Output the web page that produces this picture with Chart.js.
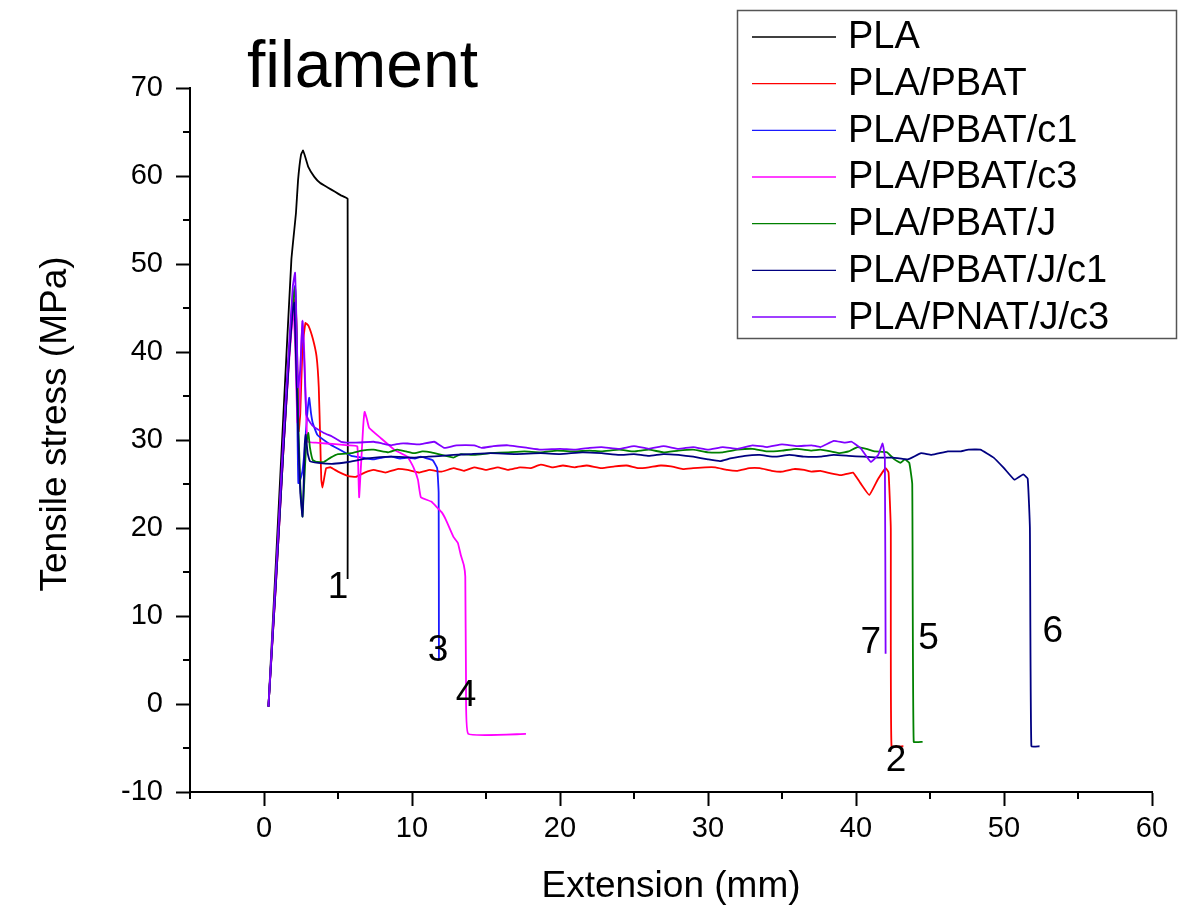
<!DOCTYPE html>
<html>
<head>
<meta charset="utf-8">
<script src="https://cdn.jsdelivr.net/npm/chart.js@4.4.1/dist/chart.umd.min.js"></script>
<style>
  html, body { margin: 0; padding: 0; background: #fff; }
  #wrap { width: 1190px; height: 912px; }
</style>
</head>
<body>
<div id="wrap"><canvas id="chart" width="1190" height="912"></canvas></div>
<script>
// series names (legend order)
var seriesNames = ['PLA', 'PLA/PBAT', 'PLA/PBAT/c1', 'PLA/PBAT/c3', 'PLA/PBAT/J', 'PLA/PBAT/J/c1', 'PLA/PNAT/J/c3'];

// [extension (mm), tensile stress (MPa)]
var pla = [[0.3,-0.3],[0.8,16],[1.3,32.5],[1.85,50.5],[2.16,55.8],[2.3,59.5],[2.5,62.4],[2.64,62.9],[2.8,62.1],[3.0,61],[3.4,59.9],[3.8,59.2],[4.3,58.7],[4.8,58.2],[5.2,57.8],[5.65,57.4],[5.65,14.2]];

var plaPbat = [[0.3,-0.3],[0.8,13.5],[1.3,28.5],[1.7,39.5],[1.95,44.8],[2.1,46],[2.2,43],[2.28,36],[2.35,31],[2.45,33],[2.6,40.5],[2.8,43.3],[3.0,43],[3.3,41.5],[3.55,39.5],[3.7,36],[3.8,30],[3.87,25.5],[3.95,24.6],[4.05,25.5],[4.2,26.8],[4.5,26.9],[5.0,26.4],[5.7,25.9],[6.2,25.8],[6.8,26.3],[7.4,26.6],[8.2,26.3],[9.0,26.7],[9.7,26.6],[10.5,26.3],[11.2,26.6],[12.0,26.4],[12.8,26.8],[13.5,26.5],[14.2,26.9],[15.0,26.6],[15.8,26.9],[16.5,26.6],[17.3,26.9],[18.0,26.8],[18.7,27.2],[19.5,26.9],[20.2,27.1],[21.0,26.9],[21.8,27.1],[22.8,26.8],[23.7,27.0],[24.5,27.1],[25.3,26.8],[26.0,26.9],[26.8,27.1],[27.5,27.0],[28.3,26.7],[29.0,26.8],[29.8,26.9],[30.5,26.9],[31.3,26.6],[32.0,26.5],[32.8,26.8],[33.5,26.8],[34.3,26.5],[35.0,26.4],[35.8,26.7],[36.5,26.6],[37.0,26.4],[37.6,26.5],[38.3,26.2],[39.0,26.0],[39.8,26.3],[40.3,25.1],[40.9,23.75],[41.5,25.6],[42.0,26.8],[42.2,26.3],[42.35,20],[42.4,-4.8],[43.2,-4.8]];

var plaPbatC1 = [[0.3,-0.3],[0.8,14],[1.3,29],[1.7,40],[1.95,46],[2.1,47.5],[2.2,40],[2.27,30],[2.32,25.1],[2.45,25.5],[2.6,26.5],[2.75,29],[2.9,32.5],[3.05,34.8],[3.18,33],[3.3,31.9],[3.6,30.6],[4.3,29.7],[5.0,29.0],[5.9,28.2],[6.6,28.0],[7.4,27.8],[8.0,28.0],[8.6,28.1],[9.2,27.9],[9.7,28.0],[10.2,27.9],[10.6,28.1],[11.0,27.9],[11.4,27.7],[11.7,26.8],[11.8,24],[11.82,5.0]];

var plaPbatC3 = [[0.3,-0.3],[0.8,13.5],[1.3,28.5],[1.7,39],[1.95,44.5],[2.0,44.9],[2.12,40],[2.25,32],[2.38,33],[2.5,40],[2.6,43.6],[2.72,40],[2.85,33],[2.95,29.8],[3.5,29.7],[4.2,29.6],[5.0,29.5],[5.7,29.4],[6.3,29.3],[6.38,26],[6.43,23.5],[6.55,27],[6.7,31.5],[6.8,33.2],[6.95,32.4],[7.1,31.4],[7.9,30.2],[8.8,28.9],[9.7,28.1],[10.1,26.9],[10.4,25.5],[10.6,23.5],[11.3,23.0],[12.0,21.8],[12.3,20.9],[12.8,19.0],[13.1,18.3],[13.3,16.9],[13.5,15.8],[13.6,14.5],[13.65,2.7],[13.8,-3.4],[17.7,-3.4]];

var plaPbatJ = [[0.3,-0.3],[0.8,14],[1.3,29],[1.7,40],[1.95,45.5],[2.1,47.3],[2.2,42],[2.3,33],[2.45,25],[2.6,21.3],[2.7,24.5],[2.85,29.5],[3.0,30.8],[3.1,29.2],[3.3,27.7],[3.6,27.5],[4.05,27.5],[4.5,28.0],[5.0,28.4],[5.9,28.5],[6.6,28.8],[7.4,28.9],[8.4,28.6],[9.0,28.9],[9.6,28.7],[10.1,28.5],[10.7,28.7],[11.3,28.6],[12.0,28.3],[12.8,28.0],[13.3,28.4],[14.2,28.3],[15.3,28.5],[16.5,28.6],[17.6,28.7],[18.7,28.6],[19.8,28.8],[21.0,28.7],[22.0,28.8],[22.8,28.7],[24.0,28.9],[25.0,28.7],[26.0,28.9],[27.0,28.6],[28.0,28.8],[29.0,28.9],[30.0,28.6],[31.0,28.6],[32.0,28.9],[33.0,29.0],[34.0,28.7],[35.0,28.8],[36.0,29.0],[37.0,28.8],[37.6,28.9],[38.3,28.7],[38.9,28.5],[39.5,28.7],[40.1,29.2],[40.7,29.0],[41.3,28.7],[42.1,28.6],[42.6,27.8],[43.0,27.4],[43.3,27.8],[43.6,27.4],[43.8,25],[43.9,-4.3],[44.5,-4.3]];

var plaPbatJC1 = [[0.3,-0.3],[0.8,13.5],[1.3,28.5],[1.7,39.5],[1.95,45],[2.05,45.6],[2.15,40],[2.3,31],[2.45,24],[2.6,21.3],[2.68,25],[2.75,29.5],[2.82,30.6],[2.95,28.5],[3.1,27.6],[3.65,27.4],[4.7,27.3],[5.7,27.5],[7.0,27.9],[8.6,28.1],[10.1,28.0],[11.1,28.1],[12.0,28.2],[12.8,28.3],[14.0,28.4],[15.3,28.5],[17.0,28.4],[18.7,28.5],[20.0,28.4],[21.5,28.6],[22.8,28.5],[24.0,28.3],[25.0,28.4],[26.0,28.2],[27.0,28.4],[28.0,28.3],[29.0,28.1],[30.0,27.8],[30.8,27.6],[31.5,27.9],[32.5,28.2],[33.5,28.3],[34.5,28.1],[35.5,28.3],[36.5,28.1],[37.6,28.1],[38.5,28.3],[39.5,28.2],[40.5,28.1],[41.5,28.0],[42.5,28.0],[43.5,27.8],[44.4,28.5],[45.1,28.3],[46.2,28.7],[47.0,28.7],[47.6,28.9],[48.4,28.9],[49.3,28.0],[50.0,26.8],[50.7,25.5],[51.3,26.1],[51.6,25.6],[51.75,20],[51.85,-4.8],[52.4,-4.8]];

var plaPnatJC3 = [[0.3,-0.3],[0.8,14.5],[1.3,30],[1.7,41],[1.95,47.5],[2.1,49],[2.2,43],[2.3,36],[2.45,38],[2.6,43.5],[2.72,39],[2.85,33],[3.0,32.3],[3.3,31.6],[4.05,30.8],[4.6,30.4],[5.2,29.8],[6.2,29.7],[7.4,29.8],[8.0,29.6],[8.6,29.4],[9.2,29.6],[9.7,29.6],[10.5,29.5],[11.5,29.8],[12.2,29.1],[13.0,29.4],[14.2,29.4],[14.7,29.1],[15.5,29.3],[16.5,29.4],[17.8,29.1],[18.7,28.9],[20.0,29.0],[21.0,28.9],[22.0,29.1],[22.8,29.2],[24.0,29.0],[25.0,29.3],[26.0,29.0],[27.0,29.3],[28.0,29.0],[29.0,29.2],[30.0,28.9],[31.0,29.2],[32.0,29.0],[33.0,29.4],[34.0,29.2],[35.0,29.5],[36.0,29.3],[37.0,29.4],[37.6,29.2],[38.5,29.9],[39.2,29.7],[39.7,29.8],[40.3,29.1],[41.0,27.5],[41.5,28.3],[41.8,29.6],[41.95,28],[42.0,5.7]];

// numbers written next to the break points
var breakLabels = ['1', '2', '3', '4', '5', '6', '7'];
var breakX = [5.0, 42.7, 11.76, 13.65, 44.9, 53.3, 41.0];
var breakY = [13.2, -6.4, 6.0, 0.9, 7.4, 8.2, 6.9];

var allSeries = [pla, plaPbat, plaPbatC1, plaPbatC3, plaPbatJ, plaPbatJC1, plaPnatJC3];
var colors = ['#000000', '#ff0000', '#1a1aff', '#ff00ff', '#008000', '#000080', '#8000ff'];
var FONT = '"Liberation Sans", Arial, sans-serif';

var datasets = allSeries.map(function(s, i){
  return {
    label: seriesNames[i],
    data: s.map(function(p){ return {x: p[0], y: p[1]}; }),
    borderColor: colors[i],
    backgroundColor: colors[i],
    borderWidth: 1.8,
    pointRadius: 0,
    tension: 0.1,
    fill: false,
    order: 7 - i
  };
});

var extras = {
  id: 'extras',
  afterDraw: function(chart){
    var ctx = chart.ctx, xs = chart.scales.x, ys = chart.scales.y, a = chart.chartArea;
    ctx.save();
    // minor ticks
    ctx.strokeStyle = '#000';
    ctx.lineWidth = 2;
    ctx.beginPath();
    for (var v = -5; v <= 60; v += 10) {
      var px = xs.getPixelForValue(v);
      ctx.moveTo(px, a.bottom); ctx.lineTo(px, a.bottom + 7);
    }
    for (var w = -5; w <= 65; w += 10) {
      var py = ys.getPixelForValue(w);
      ctx.moveTo(a.left, py); ctx.lineTo(a.left - 7, py);
    }
    ctx.stroke();

    // y axis title
    ctx.fillStyle = '#000';
    ctx.save();
    ctx.translate(56, 424);
    ctx.rotate(-Math.PI / 2);
    ctx.font = '37px ' + FONT;
    ctx.textAlign = 'center';
    ctx.textBaseline = 'middle';
    ctx.fillText('Tensile stress (MPa)', 0, 0);
    ctx.restore();

    // break numbers
    ctx.font = '37px ' + FONT;
    ctx.textAlign = 'center';
    ctx.textBaseline = 'middle';
    for (var i = 0; i < breakLabels.length; i++) {
      ctx.fillText(breakLabels[i], xs.getPixelForValue(breakX[i]), ys.getPixelForValue(breakY[i]));
    }

    // title inside the plot
    ctx.font = '66px ' + FONT;
    ctx.textAlign = 'left';
    ctx.textBaseline = 'alphabetic';
    ctx.fillText('filament', 247, 87);

    // legend box
    ctx.fillStyle = '#fff';
    ctx.fillRect(737, 10, 439, 328);
    ctx.strokeStyle = '#555';
    ctx.lineWidth = 1.5;
    ctx.strokeRect(737.5, 10.5, 439, 328);
    ctx.font = '38px ' + FONT;
    ctx.textBaseline = 'middle';
    for (var k = 0; k < seriesNames.length; k++) {
      var ry = 37 + k * 46.67;
      ctx.strokeStyle = colors[k];
      ctx.lineWidth = 1.3;
      ctx.beginPath();
      ctx.moveTo(752, ry); ctx.lineTo(836, ry);
      ctx.stroke();
      ctx.fillStyle = '#000';
      ctx.fillText(seriesNames[k], 848, ry + 1);
    }
    ctx.restore();
  }
};

function tickCol(c){
  return (c.tick && c.tick.value % 10 === 0) ? '#000' : 'rgba(0,0,0,0)';
}

new Chart(document.getElementById('chart'), {
  type: 'scatter',
  data: { datasets: datasets },
  options: {
    responsive: false,
    animation: false,
    devicePixelRatio: 1,
    showLine: true,
    layout: { padding: { top: 88, right: 38, left: 0, bottom: 0 } },
    plugins: { legend: { display: false }, tooltip: { enabled: false } },
    scales: {
      x: {
        type: 'linear', min: -5, max: 60,
        afterFit: function(s){ s.height = 120; },
        border: { display: true, color: '#000', width: 2 },
        grid: { drawOnChartArea: false, drawTicks: true, tickLength: 14, tickWidth: 2, tickColor: tickCol },
        ticks: {
          stepSize: 5, autoSkip: false, maxRotation: 0, padding: 6, color: '#000',
          font: { size: 29, family: FONT },
          callback: function(v){ return v % 10 === 0 ? v : ''; }
        },
        title: { display: true, text: 'Extension (mm)', color: '#000', font: { size: 37, family: FONT, lineHeight: 1.2 }, padding: { top: 0, bottom: 3 } }
      },
      y: {
        type: 'linear', min: -10, max: 70,
        afterFit: function(s){ s.width = 190; },
        border: { display: true, color: '#000', width: 2 },
        grid: { drawOnChartArea: false, drawTicks: true, tickLength: 14, tickWidth: 2, tickColor: tickCol },
        ticks: {
          stepSize: 5, autoSkip: false, padding: 13, color: '#000',
          font: { size: 29, family: FONT },
          callback: function(v){ return v % 10 === 0 ? v : ''; }
        }
      }
    }
  },
  plugins: [extras]
});
</script>
</body>
</html>
